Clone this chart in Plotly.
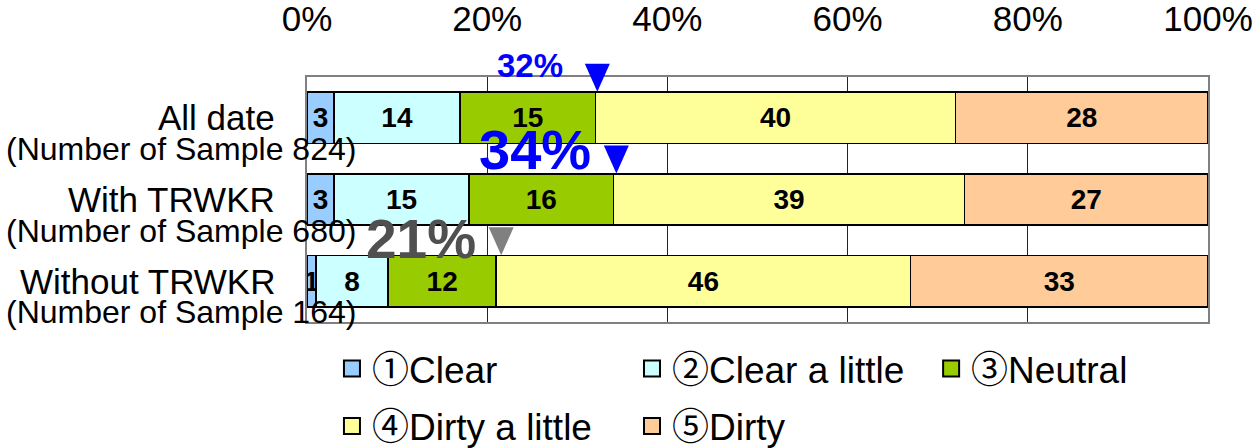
import plotly.graph_objects as go

categories = ["All date", "With TRWKR", "Without TRWKR"]
sample_labels = ["(Number of Sample 824)", "(Number of Sample 680)", "(Number of Sample 164)"]
series_names = ["①Clear", "②Clear a little", "③Neutral", "④Dirty a little", "⑤Dirty"]
clear = [3, 3, 1]
clear_little = [14, 15, 8]
neutral = [15, 16, 12]
dirty_little = [40, 39, 46]
dirty = [28, 27, 33]
series_values = [clear, clear_little, neutral, dirty_little, dirty]
colors = ["#99CCFF", "#CCFFFF", "#99CC00", "#FFFF99", "#FFCC99"]
tick_vals = [0, 20, 40, 60, 80, 100]
tick_text = ["0%", "20%", "40%", "60%", "80%", "100%"]

FONT = "Liberation Sans, Arial, Noto Sans CJK JP, sans-serif"

# legend slot positions (paper coords): 3 in first row, 2 in second row
legend_ids = ["legend", "legend2", "legend3", "legend4", "legend5"]
legend_x = [0.0277, 0.3607, 0.6927, 0.0277, 0.3607]
legend_y = [-0.065, -0.065, -0.065, -0.30, -0.30]

fig = go.Figure()
for name, vals, col in zip(series_names, series_values, colors):
    fig.add_trace(go.Bar(
        name=name, y=categories, x=vals, orientation="h",
        marker=dict(color=col, line=dict(color="black", width=1.5)),
        text=[str(v) for v in vals], textposition="inside", textangle=0,
        insidetextanchor="middle", constraintext="none",
        textfont=dict(family=FONT, size=28, color="black", weight="bold"),
        width=0.63, hoverinfo="skip", showlegend=False,
    ))
# legend entries (square swatches)
for name, col, lg in zip(series_names, colors, legend_ids):
    fig.add_trace(go.Scatter(
        name=name, x=[None], y=[None], mode="markers",
        marker=dict(symbol="square", size=16, color=col, line=dict(color="black", width=2)),
        legend=lg, showlegend=True, hoverinfo="skip",
    ))

# cumulative "clear to neutral" share per category
cum = [a + b + c for a, b, c in zip(clear, clear_little, neutral)]
ann_style = [
    dict(size=33, color="#0000FF", xshift=-30, yshift=52, tri="#0000FF", dx=2),
    dict(size=56, color="#0000FF", xshift=-20, yshift=50, tri="#0000FF", dx=3),
    dict(size=55, color="#505050", xshift=-18, yshift=42, tri="#808080", dx=5),
]
annotations = []
shapes = []
n = len(categories)
for i, (cat, c, st) in enumerate(zip(categories, cum, ann_style)):
    annotations.append(dict(
        x=c, y=cat, xref="x", yref="y", text=f"{c}%", showarrow=False,
        xanchor="right", yanchor="middle", xshift=st["xshift"], yshift=st["yshift"],
        font=dict(family=FONT, size=st["size"], color=st["color"], weight="bold"),
    ))
    d = st["dx"]
    shapes.append(dict(
        type="path", xref="x", yref="paper", xsizemode="pixel", ysizemode="pixel",
        xanchor=c, yanchor=1 - (i + 0.5) / n,
        path=f"M {d-12.5},54 L {d+12.5},54 L {d},26 Z",
        fillcolor=st["tri"], line=dict(width=0),
    ))

for cat, sub in zip(categories, sample_labels):
    annotations.append(dict(
        x=-0.0333, y=cat, xref="paper", yref="y", text=cat, showarrow=False,
        xanchor="right", yanchor="middle", yshift=0,
        font=dict(family=FONT, size=35, color="black"),
    ))
    annotations.append(dict(
        x=-0.336, y=cat, xref="paper", yref="y", text=sub, showarrow=False,
        xanchor="left", yanchor="middle", yshift=-31,
        font=dict(family=FONT, size=32, color="black"),
    ))

legends = {}
for lg, lx, ly in zip(legend_ids, legend_x, legend_y):
    legends[lg] = dict(
        x=lx, y=ly, xanchor="left", yanchor="top", orientation="h",
        font=dict(family=FONT, size=37, color="black"),
        bgcolor="rgba(0,0,0,0)",
    )

fig.update_layout(
    barmode="stack",
    width=1253, height=448,
    margin=dict(l=307, r=45, t=77, b=126, autoexpand=False),
    paper_bgcolor="white", plot_bgcolor="white",
    font=dict(family=FONT, size=34, color="black"),
    uniformtext=dict(minsize=28, mode="show"),
    xaxis=dict(
        side="top", range=[0, 100], tickvals=tick_vals, ticktext=tick_text,
        showgrid=True, gridcolor="#222222", gridwidth=1,
        zeroline=False, showline=True, linecolor="#808080", linewidth=2, mirror=True,
        ticks="", ticklabelstandoff=30, automargin=False,
        tickfont=dict(family=FONT, size=35, color="black"),
        fixedrange=True,
    ),
    yaxis=dict(
        categoryorder="array", categoryarray=categories, range=[2.5, -0.5],
        autorange=False,
        showticklabels=False, showgrid=False, zeroline=False,
        showline=True, linecolor="#808080", linewidth=2, mirror=True,
        fixedrange=True, automargin=False,
    ),
    annotations=annotations,
    shapes=shapes,
    showlegend=True,
    **legends,
)

fig.write_html("out.html", config={"displayModeBar": False},
               post_script="document.body.style.margin='0';")
